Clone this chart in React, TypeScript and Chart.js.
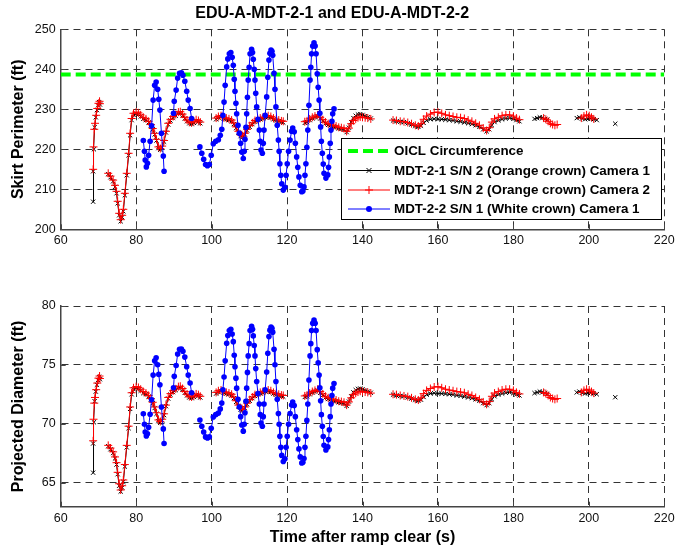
import React, { useEffect, useRef } from "react";
import { Chart, registerables } from "chart.js";

Chart.register(...registerables);

const FONT = "'Liberation Sans', Arial, Helvetica, sans-serif";

const chartTitle = "EDU-A-MDT-2-1 and EDU-A-MDT-2-2";
const topYTitle = "Skirt Perimeter (ft)";
const bottomYTitle = "Projected Diameter (ft)";
const xTitle = "Time after ramp clear (s)";

const seriesLabels = [
  "OICL Circumference",
  "MDT-2-1 S/N 2 (Orange crown) Camera 1",
  "MDT-2-1 S/N 2 (Orange crown) Camera 2",
  "MDT-2-2 S/N 1 (White crown) Camera 1",
];

const timeTicks = [60, 80, 100, 120, 140, 160, 180, 200, 220];
const perimeterTicks = [200, 210, 220, 230, 240, 250];
const diameterTicks = [65, 70, 75, 80];

const oiclTime = [60, 220];
const oiclCircumference = 238.7;

type Row = [number, number | null, number | null];
// rows: [time (s), skirt perimeter (ft), projected diameter (ft)]; null = gap

const orangeCam1: Row[] = [
  [68.6, 206.9, 65.84], [68.6, 214.5, 68.32], [68.8, 220.0, 70.12], [69.0, 225.5, 71.91], [69.3, 228.0, 72.73],
  [69.6, 229.8, 73.31], [69.9, 231.0, 73.71], [70.2, 231.8, 73.97], [70.4, 231.2, 73.78],
  [71.5, null, null],
  [72.6, 213.8, 68.09], [73.2, 213.0, 67.83], [73.9, 212.0, 67.51], [74.4, 210.6, 67.05], [74.8, 209.0, 66.53],
  [75.1, 206.5, 65.71], [75.5, 203.5, 64.73], [75.9, 202.0, 64.24], [76.3, 203.0, 64.57], [76.6, 204.5, 65.06],
  [77.0, 208.5, 66.36], [77.5, 213.5, 67.99], [78.0, 218.5, 69.62], [78.4, 223.5, 71.26], [78.8, 227.3, 72.50],
  [79.3, 228.6, 72.93], [80.0, 228.9, 73.02], [80.6, 228.7, 72.96], [81.2, 228.2, 72.80], [81.9, 227.6, 72.60],
  [82.6, 227.3, 72.50], [83.3, 226.7, 72.30], [83.9, 225.9, 72.04], [84.4, 225.0, 71.75], [84.9, 223.7, 71.33],
  [85.4, 222.2, 70.84], [85.9, 220.3, 70.22], [86.4, 219.9, 70.08], [86.9, 220.5, 70.28], [87.4, 221.9, 70.73],
  [87.9, 224.2, 71.49], [88.5, 226.2, 72.14], [89.1, 227.2, 72.47], [89.8, 227.9, 72.69], [90.5, 228.4, 72.86],
  [91.2, 229.0, 73.05], [91.7, 229.1, 73.08], [92.3, 228.5, 72.89], [92.9, 227.7, 72.63], [93.5, 227.0, 72.40],
  [94.1, 226.5, 72.23], [94.7, 226.3, 72.17], [95.3, 226.6, 72.27], [95.9, 227.1, 72.43], [96.5, 226.9, 72.36],
  [97.0, 226.5, 72.23],
  [99.0, null, null],
  [101.2, 227.5, 72.56], [101.8, 227.9, 72.69], [102.5, 228.1, 72.76], [103.2, 227.7, 72.63], [103.9, 227.5, 72.56],
  [104.6, 227.3, 72.50], [105.3, 227.0, 72.40], [105.9, 226.3, 72.17], [106.5, 225.3, 71.85], [107.1, 224.2, 71.49],
  [107.7, 223.3, 71.20], [108.2, 223.0, 71.10], [108.8, 223.7, 71.33], [109.4, 224.7, 71.65], [110.1, 225.6, 71.95],
  [110.8, 226.3, 72.17], [111.5, 226.9, 72.36], [112.2, 227.3, 72.50], [112.9, 227.5, 72.56], [113.6, 227.7, 72.63],
  [114.3, 228.0, 72.73], [115.0, 228.1, 72.76], [115.7, 227.9, 72.69], [116.4, 227.5, 72.56], [117.1, 227.2, 72.47],
  [117.8, 227.0, 72.40], [118.5, 226.8, 72.33], [119.0, 226.7, 72.30],
  [122.0, null, null],
  [124.7, 226.6, 72.27], [125.3, 226.8, 72.33], [126.0, 227.3, 72.50], [126.7, 227.7, 72.63], [127.4, 228.0, 72.73],
  [128.1, 228.3, 72.83], [128.8, 227.7, 72.63], [129.5, 227.1, 72.43], [130.2, 226.5, 72.23], [130.9, 226.1, 72.10],
  [131.6, 226.0, 72.07], [132.3, 225.7, 71.98], [133.0, 225.5, 71.91], [133.7, 225.2, 71.82], [134.4, 225.1, 71.78],
  [135.1, 224.9, 71.71], [135.8, 224.3, 71.52], [136.4, 225.4, 71.88], [137.0, 226.8, 72.33], [137.6, 227.8, 72.66],
  [138.2, 228.4, 72.86], [138.8, 228.7, 72.96], [139.4, 228.8, 72.99], [140.0, 228.6, 72.93], [140.7, 228.3, 72.83],
  [141.4, 228.0, 72.73], [142.2, 227.7, 72.63],
  [145.0, null, null],
  [148.1, 227.2, 72.47], [149.0, 227.0, 72.40], [150.0, 226.9, 72.36], [151.0, 226.8, 72.33], [152.0, 226.5, 72.23],
  [153.0, 226.2, 72.14], [154.0, 225.8, 72.01], [154.8, 225.6, 71.95], [155.5, 225.9, 72.04], [156.2, 226.6, 72.27],
  [157.0, 227.2, 72.47], [158.0, 227.5, 72.56], [159.0, 227.6, 72.60], [160.0, 227.5, 72.56], [161.0, 227.5, 72.56],
  [162.0, 227.4, 72.53], [163.0, 227.3, 72.50], [164.0, 227.2, 72.47], [165.0, 227.0, 72.40], [166.0, 226.9, 72.36],
  [167.0, 226.7, 72.30], [168.0, 226.5, 72.23], [169.0, 226.3, 72.17], [170.0, 226.0, 72.07], [171.0, 225.6, 71.95],
  [172.0, 225.0, 71.75], [172.9, 224.5, 71.58], [173.6, 225.0, 71.75], [174.3, 226.0, 72.07], [175.0, 226.8, 72.33],
  [176.0, 227.2, 72.47], [177.0, 227.5, 72.56], [178.0, 227.7, 72.63], [179.0, 227.8, 72.66], [180.0, 227.6, 72.60],
  [180.8, 227.3, 72.50], [181.6, 227.0, 72.40],
  [184.0, null, null],
  [185.6, 227.6, 72.60], [186.3, 227.8, 72.66], [187.0, 228.0, 72.73], [187.7, 227.9, 72.69], [188.4, 227.6, 72.60],
  [189.0, 227.4, 72.53],
  [194.0, null, null],
  [196.8, 227.8, 72.66], [197.5, 228.0, 72.73], [198.2, 227.7, 72.63], [199.0, 227.5, 72.56], [199.8, 227.6, 72.60],
  [200.5, 227.7, 72.63], [201.3, 227.5, 72.56], [202.1, 227.3, 72.50],
  [204.0, null, null],
  [207.0, 226.4, 72.25],
];

const orangeCam2: Row[] = [
  [68.6, 215.0, 68.55], [68.7, 220.6, 70.38], [68.9, 225.0, 71.75], [69.1, 226.5, 72.23], [69.4, 228.5, 72.89],
  [69.7, 230.2, 73.45], [70.0, 231.5, 73.87], [70.3, 232.0, 74.05], [70.4, 231.4, 73.84],
  [71.5, null, null],
  [72.6, 214.0, 68.16], [73.2, 213.3, 67.93], [73.9, 212.3, 67.61], [74.4, 211.0, 67.18], [74.8, 209.5, 66.69],
  [75.1, 207.0, 65.87], [75.5, 204.0, 64.90], [75.9, 202.4, 64.37], [76.3, 203.5, 64.73], [76.6, 205.0, 65.22],
  [77.0, 209.0, 66.53], [77.5, 214.0, 68.16], [78.0, 219.0, 69.79], [78.4, 224.0, 71.42], [78.8, 227.7, 72.63],
  [79.3, 229.0, 73.05], [80.0, 229.3, 73.15], [80.6, 229.1, 73.08], [81.2, 228.6, 72.93], [81.9, 228.0, 72.73],
  [82.6, 227.6, 72.60], [83.3, 227.0, 72.40], [83.9, 226.2, 72.14], [84.4, 225.2, 71.82], [84.9, 224.0, 71.42],
  [85.4, 222.5, 70.93], [85.9, 220.6, 70.32], [86.4, 220.2, 70.19], [86.9, 220.8, 70.38], [87.4, 222.2, 70.84],
  [87.9, 224.5, 71.58], [88.5, 226.5, 72.23], [89.1, 227.5, 72.56], [89.8, 228.2, 72.80], [90.5, 228.7, 72.96],
  [91.2, 229.3, 73.15], [91.7, 229.4, 73.18], [92.3, 228.8, 72.99], [92.9, 228.0, 72.73], [93.5, 227.3, 72.50],
  [94.1, 226.8, 72.33], [94.7, 226.6, 72.27], [95.3, 226.9, 72.36], [95.9, 227.4, 72.53], [96.5, 227.2, 72.47],
  [97.0, 226.8, 72.33],
  [99.0, null, null],
  [101.2, 227.8, 72.66], [101.8, 228.2, 72.80], [102.5, 228.4, 72.86], [103.2, 228.0, 72.73], [103.9, 227.8, 72.66],
  [104.6, 227.6, 72.60], [105.3, 227.3, 72.50], [105.9, 226.6, 72.27], [106.5, 225.6, 71.95], [107.1, 224.5, 71.58],
  [107.7, 223.6, 71.30], [108.2, 223.3, 71.20], [108.8, 224.0, 71.42], [109.4, 225.0, 71.75], [110.1, 225.9, 72.04],
  [110.8, 226.6, 72.27], [111.5, 227.2, 72.47], [112.2, 227.6, 72.60], [112.9, 227.8, 72.66], [113.6, 228.0, 72.73],
  [114.3, 228.3, 72.83], [115.0, 228.4, 72.86], [115.7, 228.2, 72.80], [116.4, 227.8, 72.66], [117.1, 227.5, 72.56],
  [117.8, 227.3, 72.50], [118.5, 227.1, 72.43], [119.0, 227.0, 72.40],
  [122.0, null, null],
  [124.7, 226.9, 72.36], [125.3, 227.1, 72.43], [126.0, 227.6, 72.60], [126.7, 228.0, 72.73], [127.4, 228.3, 72.83],
  [128.1, 228.6, 72.93], [128.8, 228.0, 72.73], [129.5, 227.4, 72.53], [130.2, 226.8, 72.33], [130.9, 226.4, 72.20],
  [131.6, 226.3, 72.17], [132.3, 226.0, 72.07], [133.0, 225.8, 72.01], [133.7, 225.5, 71.91], [134.4, 225.4, 71.88],
  [135.1, 225.2, 71.82], [135.8, 224.5, 71.58], [136.4, 225.3, 71.85], [137.0, 226.4, 72.20], [137.6, 227.2, 72.47],
  [138.2, 227.6, 72.60], [138.8, 227.9, 72.69], [139.4, 228.1, 72.76], [140.0, 228.0, 72.73], [140.7, 227.9, 72.69],
  [141.4, 227.8, 72.66], [142.2, 227.6, 72.60],
  [145.0, null, null],
  [148.1, 227.3, 72.50], [149.0, 227.2, 72.47], [150.0, 227.0, 72.40], [151.0, 226.9, 72.36], [152.0, 226.7, 72.30],
  [153.0, 226.4, 72.20], [154.0, 226.0, 72.07], [154.8, 225.8, 72.01], [155.5, 226.4, 72.20], [156.2, 227.5, 72.56],
  [157.0, 228.3, 72.83], [158.0, 228.8, 72.99], [159.0, 229.2, 73.12], [160.0, 229.3, 73.15], [161.0, 229.0, 73.05],
  [162.0, 228.6, 72.93], [163.0, 228.4, 72.86], [164.0, 228.2, 72.80], [165.0, 228.0, 72.73], [166.0, 227.9, 72.69],
  [167.0, 227.7, 72.63], [168.0, 227.3, 72.50], [169.0, 227.0, 72.40], [170.0, 226.5, 72.23], [171.0, 226.0, 72.07],
  [172.0, 225.3, 71.85], [172.9, 224.7, 71.65], [173.6, 225.4, 71.88], [174.3, 226.8, 72.33], [175.0, 227.6, 72.60],
  [176.0, 228.0, 72.73], [177.0, 228.4, 72.86], [178.0, 228.6, 72.93], [179.0, 228.6, 72.93], [180.0, 228.3, 72.83],
  [180.8, 227.8, 72.66], [181.6, 227.4, 72.53],
  [184.0, null, null],
  [188.0, 227.8, 72.66], [188.6, 227.5, 72.56], [189.2, 227.0, 72.40], [189.8, 226.5, 72.23], [190.4, 226.2, 72.14],
  [191.0, 226.0, 72.07], [191.6, 226.2, 72.14],
  [195.0, null, null],
  [198.0, 227.8, 72.66], [198.7, 228.3, 72.83], [199.4, 228.6, 72.93], [200.1, 228.4, 72.86], [200.7, 228.0, 72.73],
  [201.3, 227.6, 72.60],
];

const whiteCam1: Row[] = [
  [81.9, 222.2, 70.84], [82.2, 219.5, 69.95], [82.4, 217.3, 69.30], [82.7, 215.6, 68.95], [83.0, 216.5, 69.15],
  [83.3, 218.5, 69.70], [83.7, 222.0, 70.80], [84.1, 225.9, 72.04], [84.5, 232.3, 74.13], [84.9, 236.0, 75.34],
  [85.3, 236.8, 75.60], [85.7, 235.0, 75.01], [86.0, 232.5, 74.19], [86.3, 229.8, 73.31], [86.7, 224.0, 71.42],
  [87.2, 218.3, 69.56], [87.4, 214.5, 68.32],
  [88.5, null, null],
  [89.9, 229.0, 73.05], [90.1, 232.0, 74.03], [90.6, 234.8, 74.94], [91.0, 237.8, 75.92], [91.5, 239.0, 76.32],
  [92.0, 239.1, 76.35], [92.4, 238.5, 76.15], [92.9, 237.0, 75.66], [93.4, 234.5, 74.84], [93.8, 232.3, 74.13],
  [94.3, 230.2, 73.45], [94.7, 227.7, 72.63],
  [95.8, null, null],
  [96.9, 220.6, 70.32], [97.4, 219.0, 69.79], [97.9, 217.5, 69.30], [98.4, 216.2, 68.88], [98.9, 215.9, 68.78],
  [99.4, 216.2, 68.88], [99.9, 218.5, 69.62], [100.45, 221.4, 70.57], [101.1, 222.0, 70.77], [101.8, 222.4, 70.90],
  [102.3, 223.5, 71.26], [102.7, 225.0, 71.75], [103.0, 228.5, 72.89], [103.3, 231.8, 73.97], [103.6, 236.0, 75.34],
  [104.0, 240.6, 76.84], [104.3, 242.6, 77.50], [104.7, 243.9, 77.91], [105.1, 244.2, 78.02], [105.45, 243.0, 77.62],
  [105.75, 241.0, 76.97], [106.0, 237.5, 75.82], [106.2, 234.5, 74.84], [106.45, 231.5, 73.87], [106.65, 228.9, 73.02],
  [107.0, 226.0, 72.07], [107.35, 224.0, 71.42], [107.7, 221.5, 70.60], [108.0, 219.3, 69.89], [108.4, 217.7, 69.37],
  [108.65, 219.5, 69.95], [108.85, 222.5, 70.93], [109.1, 225.5, 71.91], [109.3, 228.9, 73.02], [109.5, 233.0, 74.36],
  [109.7, 237.3, 75.76], [109.95, 240.5, 76.80], [110.2, 243.9, 77.91], [110.6, 245.0, 78.27], [110.85, 244.2, 78.02],
  [111.05, 242.5, 77.46], [111.3, 240.0, 76.64], [111.5, 237.3, 75.76], [111.7, 234.0, 74.68], [111.95, 230.6, 73.58],
  [112.3, 227.5, 72.56], [112.65, 224.8, 71.68], [112.9, 222.0, 70.77], [113.1, 219.8, 70.05], [113.45, 219.0, 69.79],
  [113.7, 221.5, 70.60], [113.9, 224.8, 71.68], [114.2, 228.5, 72.89], [114.6, 233.1, 74.39], [114.9, 238.0, 75.99],
  [115.2, 242.3, 77.40], [115.45, 244.0, 77.95], [115.75, 244.8, 78.21], [116.0, 244.5, 78.11], [116.2, 243.5, 77.78],
  [116.55, 239.0, 76.32], [116.8, 235.0, 75.01], [117.05, 230.6, 73.58], [117.4, 226.0, 72.07], [117.7, 222.3, 70.87],
  [117.9, 219.5, 69.95], [118.1, 216.4, 68.94], [118.35, 213.5, 67.99], [118.6, 211.4, 67.31], [119.0, 209.8, 66.79],
  [119.45, 210.5, 67.02], [119.75, 213.5, 67.99], [120.05, 216.4, 68.94], [120.4, 219.5, 69.95], [120.8, 222.3, 70.87],
  [121.2, 224.5, 71.58], [121.5, 225.3, 71.85], [121.9, 224.4, 71.55], [122.2, 221.5, 70.60], [122.55, 218.1, 69.49],
  [122.85, 215.5, 68.65], [123.15, 213.1, 67.86], [123.5, 211.0, 67.18], [123.9, 209.4, 66.66], [124.2, 209.6, 66.73],
  [124.5, 210.6, 67.05], [124.75, 213.5, 67.99], [125.0, 216.4, 68.94], [125.25, 220.5, 70.28], [125.5, 224.8, 71.68],
  [125.8, 231.0, 73.71], [126.1, 237.3, 75.76], [126.3, 240.5, 76.80], [126.5, 243.9, 77.91], [126.8, 245.8, 78.53],
  [127.15, 246.6, 78.80], [127.45, 245.8, 78.53], [127.7, 243.9, 77.91], [128.0, 238.9, 76.29], [128.25, 235.5, 75.17],
  [128.5, 232.3, 74.13], [128.7, 229.0, 73.05], [128.9, 225.6, 71.95], [129.1, 222.0, 70.77], [129.35, 219.0, 69.79],
  [129.6, 216.3, 68.91], [129.8, 214.0, 68.16], [130.3, 212.8, 67.77], [130.8, 213.6, 68.03], [131.0, 215.5, 68.65],
  [131.2, 218.1, 69.49], [131.45, 221.5, 70.60], [131.65, 224.8, 71.68], [131.9, 227.0, 72.40], [132.1, 228.9, 73.02],
  [132.45, 230.1, 73.41],
];

const toPts = (rows: Row[], col: 1 | 2) => rows.map((r) => ({ x: r[0], y: r[col] }));

const legendStyles = [
  { color: "#00ff00", width: 4, dash: [10, 5], marker: "none" },
  { color: "#000000", width: 1, dash: [], marker: "x" },
  { color: "#ff0000", width: 1, dash: [], marker: "+" },
  { color: "#0000ff", width: 1, dash: [], marker: "dot" },
];

function drawMarker(ctx: CanvasRenderingContext2D, kind: string, x: number, y: number, color: string) {
  ctx.save();
  ctx.strokeStyle = color;
  ctx.fillStyle = color;
  ctx.lineWidth = 1;
  ctx.setLineDash([]);
  ctx.beginPath();
  if (kind === "x") {
    ctx.moveTo(x - 2.5, y - 2.5); ctx.lineTo(x + 2.5, y + 2.5);
    ctx.moveTo(x + 2.5, y - 2.5); ctx.lineTo(x - 2.5, y + 2.5);
    ctx.stroke();
  } else if (kind === "+") {
    ctx.moveTo(x - 4, y); ctx.lineTo(x + 4, y);
    ctx.moveTo(x, y - 4); ctx.lineTo(x, y + 4);
    ctx.stroke();
  } else if (kind === "dot") {
    ctx.arc(x, y, 3, 0, Math.PI * 2);
    ctx.fill();
  }
  ctx.restore();
}

const boxLegend = {
  id: "boxLegend",
  afterDraw(chart: any) {
    const ctx: CanvasRenderingContext2D = chart.ctx;
    const x0 = 341.5, y0 = 138.5, w = 320, h = 81;
    const rowsY = [151, 170.5, 190, 209];
    ctx.save();
    ctx.fillStyle = "#ffffff";
    ctx.fillRect(x0, y0, w, h);
    ctx.strokeStyle = "#000000";
    ctx.lineWidth = 1;
    ctx.setLineDash([]);
    ctx.strokeRect(x0, y0, w, h);
    seriesLabels.forEach((label, i) => {
      const st = legendStyles[i];
      const y = rowsY[i];
      ctx.save();
      ctx.strokeStyle = st.color;
      ctx.lineWidth = st.width;
      ctx.setLineDash(st.dash);
      ctx.beginPath();
      ctx.moveTo(348, y);
      ctx.lineTo(390, y);
      ctx.stroke();
      ctx.restore();
      drawMarker(ctx, st.marker, 369, y, st.color);
      ctx.fillStyle = "#000000";
      ctx.font = `bold 13.4px ${FONT}`;
      ctx.textBaseline = "middle";
      ctx.textAlign = "left";
      ctx.fillText(label, 394, y + 0.5);
    });
    ctx.restore();
  },
};

const axisTicks = {
  id: "axisTicks",
  afterDraw(chart: any) {
    const { ctx, chartArea, scales } = chart;
    const { left, bottom } = chartArea;
    ctx.save();
    ctx.strokeStyle = "#444444";
    ctx.lineWidth = 1;
    ctx.setLineDash([]);
    ctx.beginPath();
    scales.x.ticks.forEach((t: any) => {
      const px = Math.round(scales.x.getPixelForValue(t.value)) + 0.5;
      ctx.moveTo(px, bottom);
      ctx.lineTo(px, bottom - 5);
    });
    scales.y.ticks.forEach((t: any) => {
      const py = Math.round(scales.y.getPixelForValue(t.value)) + 0.5;
      ctx.moveTo(left, py);
      ctx.lineTo(left + 5, py);
    });
    ctx.stroke();
    ctx.restore();
  },
};

function makeDatasets(col: 1 | 2) {
  const ds: any[] = [];
  if (col === 1) {
    ds.push({
      label: seriesLabels[0],
      data: oiclTime.map((t) => ({ x: t, y: oiclCircumference })),
      borderColor: "#00ff00",
      borderWidth: 4,
      borderDash: [10, 5],
      pointRadius: 0,
      order: 3,
    });
  }
  ds.push({
    label: seriesLabels[1],
    data: toPts(orangeCam1, col),
    borderColor: "#000000",
    borderWidth: 1,
    pointStyle: "crossRot",
    pointRadius: 3,
    pointBorderColor: "#000000",
    pointBorderWidth: 1,
    order: 2,
  });
  ds.push({
    label: seriesLabels[2],
    data: toPts(orangeCam2, col),
    borderColor: "#ff0000",
    borderWidth: 1,
    pointStyle: "cross",
    pointRadius: 4,
    pointBorderColor: "#ff0000",
    pointBorderWidth: 1,
    order: 1,
  });
  ds.push({
    label: seriesLabels[3],
    data: toPts(whiteCam1, col),
    borderColor: "#0000ff",
    borderWidth: 1,
    pointStyle: "circle",
    pointRadius: 2.8,
    pointBackgroundColor: "#0000ff",
    pointBorderColor: "#0000ff",
    pointBorderWidth: 0,
    order: 0,
  });
  return ds;
}

function makeOptions(isTop: boolean): any {
  const yTicks = isTop ? perimeterTicks : diameterTicks;
  return {
    responsive: false,
    animation: false,
    events: [],
    layout: { padding: { left: 0, right: 16.7, top: isTop ? 0 : 46, bottom: 0 } },
    plugins: {
      legend: { display: false },
      tooltip: { enabled: false },
      title: isTop
        ? {
            display: true,
            text: chartTitle,
            color: "#000000",
            font: { family: FONT, size: 16, weight: "bold" },
            padding: { top: 4.4, bottom: 5.7 },
          }
        : { display: false },
    },
    scales: {
      x: {
        type: "linear",
        min: 60,
        max: 220,
        afterBuildTicks: (s: any) => {
          s.ticks = timeTicks.map((v) => ({ value: v }));
        },
        afterFit: (s: any) => {
          s.height = isTop ? 30.7 : 43.3;
        },
        grid: { color: "#333333", lineWidth: 1, drawTicks: false },
        border: { display: true, color: "#444444", width: 1.5, dash: [7, 5] },
        ticks: { color: "#111111", font: { family: FONT, size: 12.5 }, padding: 4, maxRotation: 0, autoSkip: false },
        title: isTop
          ? { display: false }
          : {
              display: true,
              text: xTitle,
              color: "#000000",
              font: { family: FONT, size: 16, weight: "bold" },
              padding: { top: 0, bottom: 3.1 },
            },
      },
      y: {
        type: "linear",
        min: isTop ? 200 : 62.95,
        max: isTop ? 250 : 80,
        afterBuildTicks: (s: any) => {
          s.ticks = yTicks.map((v) => ({ value: v }));
        },
        afterFit: (s: any) => {
          s.width = 60.7;
        },
        grid: { color: "#333333", lineWidth: 1, drawTicks: false },
        border: { display: true, color: "#444444", width: 1.5, dash: [7, 5] },
        ticks: { color: "#111111", font: { family: FONT, size: 12.5 }, padding: 5, autoSkip: false },
        title: {
          display: true,
          text: isTop ? topYTitle : bottomYTitle,
          color: "#000000",
          font: { family: FONT, size: 16, weight: "bold" },
          padding: { top: 9.4, bottom: 0 },
        },
      },
    },
  };
}

export default function App() {
  const topRef = useRef<HTMLCanvasElement>(null);
  const botRef = useRef<HTMLCanvasElement>(null);

  useEffect(() => {
    const top = new Chart(topRef.current as HTMLCanvasElement, {
      type: "line",
      data: { datasets: makeDatasets(1) },
      options: makeOptions(true),
      plugins: [axisTicks, boxLegend],
    } as any);
    const bottom = new Chart(botRef.current as HTMLCanvasElement, {
      type: "line",
      data: { datasets: makeDatasets(2) },
      options: makeOptions(false),
      plugins: [axisTicks],
    } as any);
    return () => {
      top.destroy();
      bottom.destroy();
    };
  }, []);

  return (
    <div style={{ position: "absolute", left: 0, top: 0, width: 681, height: 550, background: "#ffffff" }}>
      <canvas
        ref={topRef}
        width={681}
        height={260}
        style={{ position: "absolute", left: 0, top: 0, width: 681, height: 260, display: "block" }}
      />
      <canvas
        ref={botRef}
        width={681}
        height={290}
        style={{ position: "absolute", left: 0, top: 260, width: 681, height: 290, display: "block" }}
      />
    </div>
  );
}
